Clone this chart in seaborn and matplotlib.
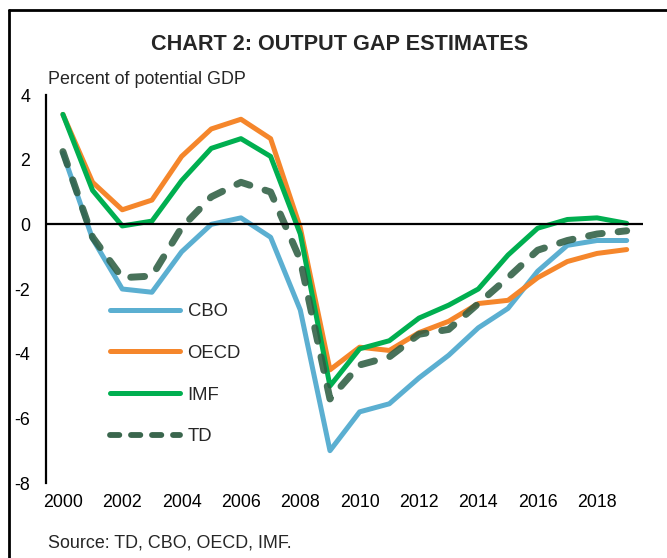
import matplotlib
matplotlib.use("Agg")
import matplotlib.pyplot as plt
import matplotlib.lines as mlines
import seaborn as sns
import pandas as pd

years = list(range(2000, 2020))
cbo = [2.2, -0.45, -2.0, -2.1, -0.85, 0.0, 0.2, -0.4, -2.65, -7.0, -5.8, -5.55, -4.75, -4.05, -3.2, -2.6, -1.45, -0.65, -0.5, -0.5]
oecd = [3.4, 1.3, 0.45, 0.75, 2.1, 2.95, 3.25, 2.65, -0.1, -4.5, -3.8, -3.9, -3.35, -3.0, -2.45, -2.35, -1.65, -1.15, -0.9, -0.78]
imf = [3.4, 1.05, -0.05, 0.1, 1.35, 2.35, 2.65, 2.1, -0.3, -5.0, -3.85, -3.6, -2.9, -2.5, -2.0, -0.95, -0.12, 0.15, 0.2, 0.03]
td = [2.25, -0.4, -1.65, -1.6, -0.1, 0.85, 1.3, 1.0, -1.1, -5.4, -4.35, -4.1, -3.4, -3.25, -2.45, -1.65, -0.8, -0.5, -0.3, -0.2]

series_names = ["CBO", "OECD", "IMF", "TD"]
series_values = [cbo, oecd, imf, td]
colors = ["#5BAFD1", "#F5862B", "#00AF50", "#2F5E43"]
yticks = [-8, -6, -4, -2, 0, 2, 4]
xticks = list(range(2000, 2019, 2))

df = pd.DataFrame({"year": years * 4,
                   "value": sum(series_values, []),
                   "series": sum([[n] * len(years) for n in series_names], [])})

sns.set_theme(style="white")
plt.rcParams["font.family"] = ["Liberation Sans", "DejaVu Sans"]

fig = plt.figure(figsize=(6.67, 5.58), dpi=100)
ax = fig.add_axes([46 / 667, 1 - 483 / 558, (643 - 46) / 667, (483 - 95) / 558])

ax.axhline(0, color="black", lw=1.6, zorder=6)

lw = 3.6
td_lw = 5.0
td_dash = (2.0, 2.3)
for name, col in zip(series_names, colors):
    sub = df[df["series"] == name]
    if name == "TD":
        sns.lineplot(data=sub, x="year", y="value", ax=ax, color=col, lw=td_lw,
                     zorder=5)
        line = ax.get_lines()[-1]
        line.set_dashes(td_dash)
        line.set_dash_capstyle("round")
        line.set_alpha(0.88)
    else:
        sns.lineplot(data=sub, x="year", y="value", ax=ax, color=col, lw=lw, zorder=3)
        ax.get_lines()[-1].set_solid_capstyle("round")
        ax.get_lines()[-1].set_solid_joinstyle("round")

ax.set_xlim(1999.43, 2019.55)
ax.set_ylim(-8, 4)
ax.set_yticks(yticks)
ax.set_yticklabels([str(t) for t in yticks])
ax.set_xticks(xticks)
ax.set_xticklabels([str(t) for t in xticks])
ax.set_xlabel("")
ax.set_ylabel("")
ax.tick_params(axis="both", length=0, labelsize=12.8, colors="black")
ax.tick_params(axis="y", pad=11.5)
ax.tick_params(axis="x", pad=8)
for s in ["top", "right", "bottom"]:
    ax.spines[s].set_visible(False)
ax.spines["left"].set_color("black")
ax.spines["left"].set_linewidth(1.6)

handles = []
for name, col in zip(series_names, colors):
    if name == "TD":
        h = mlines.Line2D([], [], color=col, lw=4.2, dashes=(1.6, 2.0),
                          dash_capstyle="round", alpha=0.95)
    else:
        h = mlines.Line2D([], [], color=col, lw=lw, solid_capstyle="round")
    handles.append(h)
ax.legend(handles, series_names, loc="upper left",
          bbox_to_anchor=((110 - 46) / 597, (483 - 303) / 388),
          frameon=False, fontsize=13.3, handlelength=3.8, handletextpad=0.4,
          labelspacing=1.34, borderpad=0, borderaxespad=0)

fig.text(340 / 667, 1 - 44 / 558, "CHART 2: OUTPUT GAP ESTIMATES",
         ha="center", va="center", fontsize=15.6, fontweight="bold")
fig.text(48 / 667, 1 - 80 / 558, "Percent of potential GDP",
         ha="left", va="center", fontsize=12.9)
fig.text(48 / 667, 1 - 543 / 558, "Source: TD, CBO, OECD, IMF.",
         ha="left", va="center", fontsize=12.9)

# partial border (top and left)
fig.add_artist(mlines.Line2D([9 / 667, 9 / 667], [0, 1 - 10 / 558],
                             transform=fig.transFigure, color="black", lw=2))
fig.add_artist(mlines.Line2D([9 / 667, 1], [1 - 10 / 558, 1 - 10 / 558],
                             transform=fig.transFigure, color="black", lw=2))

fig.savefig("out.png", dpi=100, facecolor="white")
